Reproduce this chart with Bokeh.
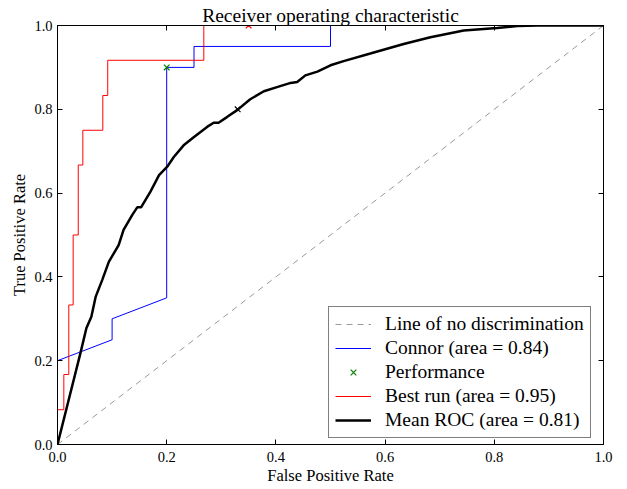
from bokeh.plotting import figure
from bokeh.models import (Range1d, FixedTicker, PrintfTickFormatter, LinearAxis,
                          Legend, LegendItem)
from bokeh.embed import file_html
from bokeh.resources import INLINE

# ---- data ----
tick_values = [0.0, 0.2, 0.4, 0.6, 0.8, 1.0]

diag_fpr = [0.0, 1.0]
diag_tpr = [0.0, 1.0]

connor_fpr = [0.0, 0.0, 0.1, 0.1, 0.2, 0.2, 0.25, 0.25, 0.5, 0.5, 1.0]
connor_tpr = [0.0, 0.2, 0.25, 0.3, 0.35, 0.9, 0.9, 0.95, 0.95, 1.0, 1.0]

perf_fpr = [0.2]
perf_tpr = [0.9]

best_fpr = [0.0, 0.0, 0.0116, 0.0116, 0.0207, 0.0207, 0.0287, 0.0287, 0.038, 0.038,
            0.0464, 0.0464, 0.083, 0.083, 0.092, 0.092, 0.268, 0.268, 1.0]
best_tpr = [0.0, 0.083, 0.083, 0.167, 0.167, 0.333, 0.333, 0.5, 0.5, 0.667,
            0.667, 0.75, 0.75, 0.833, 0.833, 0.917, 0.917, 1.0, 1.0]
best_op_fpr = [0.35]
best_op_tpr = [1.0]

mean_fpr = [0.0, 0.042, 0.053, 0.062, 0.070, 0.082, 0.094, 0.112, 0.121, 0.137,
            0.146, 0.153, 0.170, 0.186, 0.201, 0.213, 0.231, 0.250, 0.274, 0.286,
            0.295, 0.311, 0.329, 0.353, 0.378, 0.402, 0.427, 0.439, 0.454, 0.476,
            0.500, 0.524, 0.573, 0.634, 0.683, 0.744, 0.805, 0.842, 0.880, 1.0]
mean_tpr = [0.0, 0.218, 0.278, 0.305, 0.353, 0.393, 0.436, 0.476, 0.512, 0.548,
            0.566, 0.566, 0.603, 0.643, 0.663, 0.686, 0.714, 0.734, 0.758, 0.768,
            0.768, 0.782, 0.798, 0.824, 0.843, 0.853, 0.863, 0.865, 0.881, 0.890,
            0.905, 0.915, 0.933, 0.956, 0.972, 0.988, 0.994, 0.999, 1.0, 1.0]
mean_op_fpr = [0.33]
mean_op_tpr = [0.8]

title_text = "Receiver operating characteristic"
labels = ["Line of no discrimination", "Connor (area = 0.84)", "Performance",
          "Best run (area = 0.95)", "Mean ROC (area = 0.81)"]

FONT = "Liberation Serif"

p = figure(frame_width=546, frame_height=419, output_backend="svg",
           toolbar_location=None, x_range=Range1d(0, 1), y_range=Range1d(0, 1),
           min_border_left=57, min_border_right=16, min_border_top=25,
           min_border_bottom=0, title=title_text)
p.title.align = "center"
p.title.text_font = FONT
p.title.text_font_size = "19.5px"
p.title.text_font_style = "normal"
p.title.text_color = "black"
p.title.standoff = 0
p.title.offset = 0

p.xgrid.visible = False
p.ygrid.visible = False
p.outline_line_color = "black"
p.background_fill_color = "white"

p.xaxis.axis_label = "False Positive Rate"
p.yaxis.axis_label = "True Positive Rate"

def style_axis(ax, show_labels=True):
    ax.ticker = FixedTicker(ticks=tick_values)
    ax.formatter = PrintfTickFormatter(format="%.1f")
    ax.major_tick_in = 5
    ax.major_tick_out = 0
    ax.minor_tick_line_color = None
    ax.axis_line_color = "black"
    ax.major_tick_line_color = "black"
    ax.major_label_text_font = FONT
    ax.axis_label_text_font = FONT
    ax.axis_label_text_font_style = "normal"
    ax.axis_label_text_font_size = "16.5px"
    ax.axis_label_text_color = "black"
    if show_labels:
        ax.major_label_text_font_size = "14.5px"
        ax.major_label_text_color = "black"
    else:
        ax.major_label_text_font_size = "1px"
        ax.major_label_text_color = None
        ax.major_label_standoff = 0

style_axis(p.xaxis[0])
style_axis(p.yaxis[0])
p.xaxis[0].major_label_standoff = 7
p.xaxis[0].axis_label_standoff = 1
p.yaxis[0].major_label_standoff = 5
p.yaxis[0].axis_label_standoff = 2

top_ax = LinearAxis()
style_axis(top_ax, show_labels=False)
p.add_layout(top_ax, "above")
right_ax = LinearAxis()
style_axis(right_ax, show_labels=False)
p.add_layout(right_ax, "right")

r_diag = p.line(diag_fpr, diag_tpr, line_color="#999999", line_width=1, line_dash="6 5")
r_conn = p.line(connor_fpr, connor_tpr, line_color="blue", line_width=1)
r_perf = p.scatter(perf_fpr, perf_tpr, marker="x", size=8, color="green", line_width=1.2)
r_best = p.line(best_fpr, best_tpr, line_color="red", line_width=1)
p.scatter(best_op_fpr, best_op_tpr, marker="x", size=8, color="red", line_width=1.2)
r_mean = p.line(mean_fpr, mean_tpr, line_color="black", line_width=2.5)
p.scatter(mean_op_fpr, mean_op_tpr, marker="x", size=8, color="black", line_width=1.2)

legend = Legend(items=[LegendItem(label=labels[0], renderers=[r_diag]),
                       LegendItem(label=labels[1], renderers=[r_conn]),
                       LegendItem(label=labels[2], renderers=[r_perf]),
                       LegendItem(label=labels[3], renderers=[r_best]),
                       LegendItem(label=labels[4], renderers=[r_mean])],
                location=(271, 6))
legend.label_text_font = FONT
legend.label_text_font_size = "19.5px"
legend.label_text_color = "black"
legend.glyph_width = 36
legend.glyph_height = 20
legend.label_height = 20
legend.spacing = 2
legend.padding = 6
legend.label_standoff = 14
legend.border_line_color = "black"
legend.border_line_width = 1
legend.background_fill_color = "white"
legend.background_fill_alpha = 1.0
legend.margin = 0
p.add_layout(legend)

open("out.html", "w").write(file_html(p, INLINE))
